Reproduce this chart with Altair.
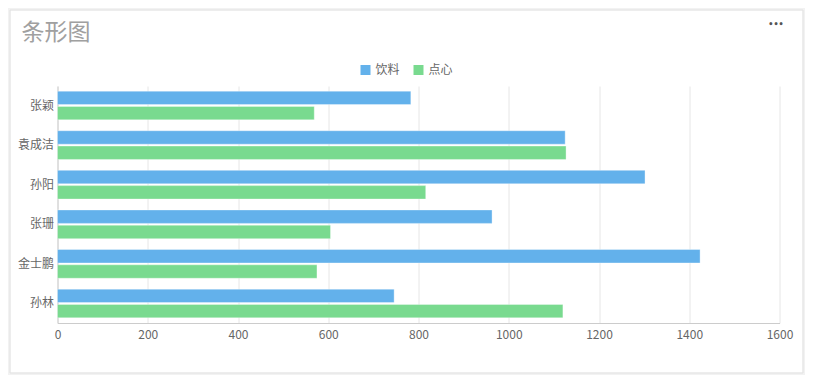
import altair as alt
import pandas as pd

names = ["张颖", "袁成洁", "孙阳", "张珊", "金士鹏", "孙林"]
series = ["饮料", "点心"]
drinks = [783, 1125, 1302, 963, 1424, 746]
snacks = [569, 1127, 816, 605, 575, 1120]
x_ticks = [0, 200, 400, 600, 800, 1000, 1200, 1400, 1600]
colors = ["#63b1eb", "#79da8f"]

rows = []
for n, d, s in zip(names, drinks, snacks):
    rows.append({"name": n, "series": series[0], "value": d})
    rows.append({"name": n, "series": series[1], "value": s})
df = pd.DataFrame(rows)

FONT = "Noto Sans CJK SC"

bars = alt.Chart(df).mark_bar(strokeWidth=1, strokeOpacity=0.35, stroke="white").encode(
    x=alt.X("value:Q", scale=alt.Scale(domain=[0, 1600], nice=False),
            axis=alt.Axis(values=x_ticks, format="d", title=None, ticks=False,
                          labelPadding=6, labelFlush=False,
                          domainColor="#cccccc", gridColor="#e6e6e6",
                          labelColor="#666666", labelFontSize=12, labelFont=FONT)),
    y=alt.Y("name:N", sort=names, scale=alt.Scale(paddingInner=0.275, paddingOuter=0.13),
            axis=alt.Axis(title=None, ticks=False, grid=False, labelPadding=4,
                          domainColor="#cccccc", labelColor="#666666",
                          labelFontSize=12, labelFont=FONT)),
    yOffset=alt.YOffset("series:N", sort=series, scale=alt.Scale(paddingInner=0.12)),
    color=alt.Color("series:N", sort=series,
                    scale=alt.Scale(domain=series, range=colors),
                    legend=alt.Legend(title=None, orient="none", legendX=302, legendY=-22,
                                      direction="horizontal", symbolType="square",
                                      symbolSize=100, symbolStrokeWidth=0,
                                      labelFontSize=12, labelColor="#666666",
                                      labelFont=FONT, columnPadding=12, padding=0)),
)

anno = pd.DataFrame({"t": ["条形图"]})
shadow = alt.Chart(anno).mark_rect(fillOpacity=0, stroke="#f2f2f2", strokeWidth=3).encode(
    x=alt.value(-48.5), x2=alt.value(746.5), y=alt.value(-77), y2=alt.value(288)
)
card = alt.Chart(anno).mark_rect(fillOpacity=0, stroke="#e2e2e2", strokeWidth=1).encode(
    x=alt.value(-47.5), x2=alt.value(745.5), y=alt.value(-76), y2=alt.value(287)
)
title = alt.Chart(anno).mark_text(align="left", baseline="middle", fontSize=23,
                                  color="#a0a0a0", font=FONT).encode(
    x=alt.value(-36), y=alt.value(-53), text="t:N"
)
dots = alt.Chart(pd.DataFrame({"d": ["•••"]})).mark_text(
    align="center", baseline="middle", fontSize=8, color="#555555",
    font="DejaVu Sans", fontWeight="bold").encode(
    x=alt.value(718.5), y=alt.value(-61), text="d:N"
)

chart = alt.layer(shadow, card, bars, title, dots).properties(
    width=722, height=237,
    autosize=alt.AutoSizeParams(type="none"),
    padding={"left": 49.5, "top": 78, "right": 25.5, "bottom": 52},
    background="white",
).configure_view(stroke=None)

chart.save("out.html", embed_options={"renderer": "svg", "actions": False})
